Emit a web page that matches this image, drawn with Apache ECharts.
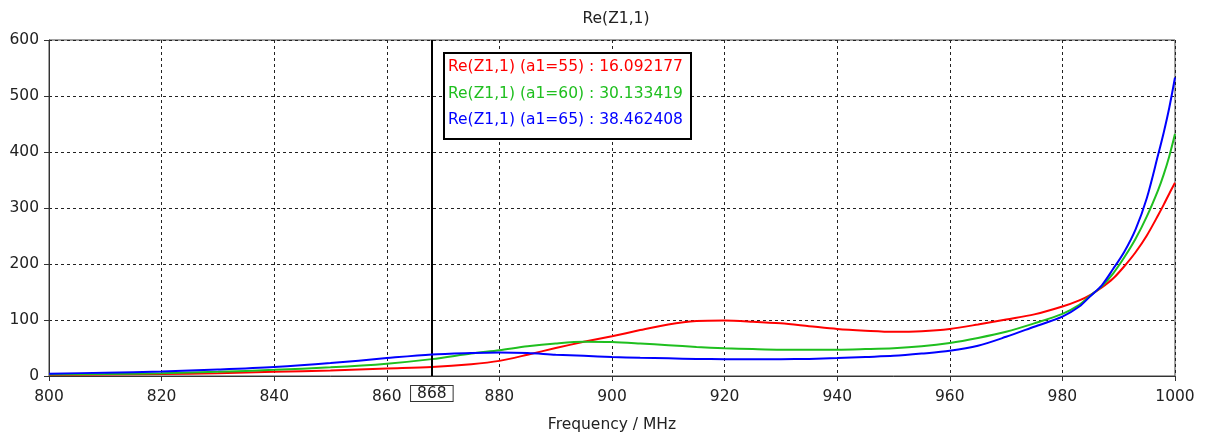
<!DOCTYPE html>
<html>
<head>
<meta charset="utf-8">
<title>Re(Z1,1)</title>
<script src="https://cdn.jsdelivr.net/npm/echarts@6/dist/echarts.min.js"></script>
<style>
  html, body { margin: 0; padding: 0; background: #fff; }
  #chart { width: 1207px; height: 435px; }
</style>
</head>
<body>
<div id="chart"></div>
<script>
// Sweep frequencies (MHz)
const freq = [800, 810, 820, 830, 840, 850, 860, 868, 875, 880, 885, 890, 895, 900, 905, 910, 915, 920,
  925, 930, 935, 940, 945, 950, 955, 960, 965, 970, 975, 980, 983, 985, 987, 989, 991, 993, 995,
  997, 998, 999, 1000];

// Re(Z1,1) for each value of the parameter a1
const reA55 = [2, 2.5, 3.5, 5, 7.5, 10, 13.5, 16.092177, 21, 27, 38, 50, 61, 71, 82, 92, 98, 99,
  97, 94, 89, 84, 81, 79, 80, 84, 92, 101, 110, 124, 135, 145, 158, 174, 196, 221, 251,
  287, 306, 326, 345];
const reA60 = [2.5, 3.5, 5, 7.5, 11, 15.5, 22, 30.133419, 40, 46, 53, 58, 61, 60.5, 58, 55, 52, 49.5,
  48, 47, 47, 47, 48, 49.5, 53, 59, 68, 79, 94, 111, 127, 144, 160, 183, 212, 245, 285,
  332, 360, 393, 432];
const reA65 = [4, 6, 8, 11.5, 16, 23, 32, 38.462408, 41, 42, 41, 38, 36, 34, 32.5, 31.5, 30.5, 30,
  30, 30, 30.5, 32, 34, 36, 40, 45, 54, 70, 88, 106, 124, 143, 162, 191, 222, 262, 318,
  395, 435, 480, 533];

const seriesNames = ['Re(Z1,1) (a1=55)', 'Re(Z1,1) (a1=60)', 'Re(Z1,1) (a1=65)'];
const seriesColors = ['#ff0000', '#1fbf1f', '#0000ff'];
const seriesValues = [reA55, reA60, reA65];

// Marker frequency and axis ticks
const markerFreq = 868;
const xMin = 800, xMax = 1000, xStep = 20;
const yMin = 0, yMax = 600, yStep = 100;

const FONT = 'DejaVu Sans';
const FS = 15.5;
const markerIdx = freq.indexOf(markerFreq);

const chart = echarts.init(document.getElementById('chart'), null, { renderer: 'canvas' });

const series = seriesValues.map((vals, s) => ({
  name: seriesNames[s],
  type: 'line',
  data: freq.map((f, i) => [f, vals[i]]),
  showSymbol: false,
  smooth: 0.3,
  lineStyle: { color: seriesColors[s], width: 2 },
  itemStyle: { color: seriesColors[s] },
  z: 3 + s,
  animation: false
}));

// vertical marker at 868 MHz, with its value box on the frequency axis
series[0].markLine = {
  silent: true,
  symbol: ['none', 'none'],
  animation: false,
  lineStyle: { color: '#000', width: 2, type: 'solid' },
  label: {
    show: true,
    position: 'start',
    distance: 10,
    formatter: String(markerFreq),
    color: '#222',
    fontFamily: FONT,
    fontSize: FS,
    backgroundColor: '#fff',
    borderColor: '#333',
    borderWidth: 1,
    padding: [0, 6, -1, 6]
  },
  data: [{ xAxis: markerFreq }]
};

// readout box listing each curve at the marker
const readoutLines = seriesValues.map((vals, s) => ({
  type: 'text',
  left: 448,
  top: 59 + s * 26.5,
  style: {
    text: seriesNames[s] + ' : ' + vals[markerIdx].toFixed(6),
    fill: seriesColors[s],
    font: FS + 'px "' + FONT + '"'
  },
  z: 101
}));

chart.setOption({
  backgroundColor: '#fff',
  animation: false,
  title: {
    text: 'Re(Z1,1)',
    left: 611,
    top: 6,
    textAlign: 'center',
    textStyle: { fontFamily: FONT, fontSize: FS, fontWeight: 'normal', color: '#222' }
  },
  grid: {
    left: 49, right: 32, top: 40, bottom: 59,
    outerBoundsMode: 'none',
    containLabel: false,
    show: true,
    borderColor: '#444',
    borderWidth: 1,
    backgroundColor: '#fff'
  },
  xAxis: {
    type: 'value',
    min: xMin, max: xMax, interval: xStep,
    name: 'Frequency / MHz',
    nameLocation: 'middle',
    nameGap: 41,
    nameTextStyle: { fontFamily: FONT, fontSize: FS, color: '#222' },
    axisLine: { show: true, onZero: false, lineStyle: { color: '#333', width: 1 } },
    axisTick: { show: true, inside: false, length: 5, lineStyle: { color: '#333' } },
    axisLabel: { margin: 13, fontFamily: FONT, fontSize: FS, color: '#222', formatter: v => String(v) },
    splitLine: { show: true, lineStyle: { color: '#222', width: 1, type: [3, 3] } }
  },
  yAxis: {
    type: 'value',
    min: yMin, max: yMax, interval: yStep,
    axisLine: { show: true, lineStyle: { color: '#333', width: 1 } },
    axisTick: { show: true, inside: false, length: 5, lineStyle: { color: '#333' } },
    axisLabel: { margin: 10, padding: [2, 0, 0, 0], fontFamily: FONT, fontSize: FS, color: '#222', formatter: v => String(v) },
    splitLine: { show: true, lineStyle: { color: '#222', width: 1, type: [3, 3] } }
  },
  graphic: [
    {
      type: 'rect',
      left: 443,
      top: 52,
      shape: { width: 247, height: 86 },
      style: { fill: '#fff', stroke: '#000', lineWidth: 2 },
      z: 100
    }
  ].concat(readoutLines),
  series: series
});
</script>
</body>
</html>
